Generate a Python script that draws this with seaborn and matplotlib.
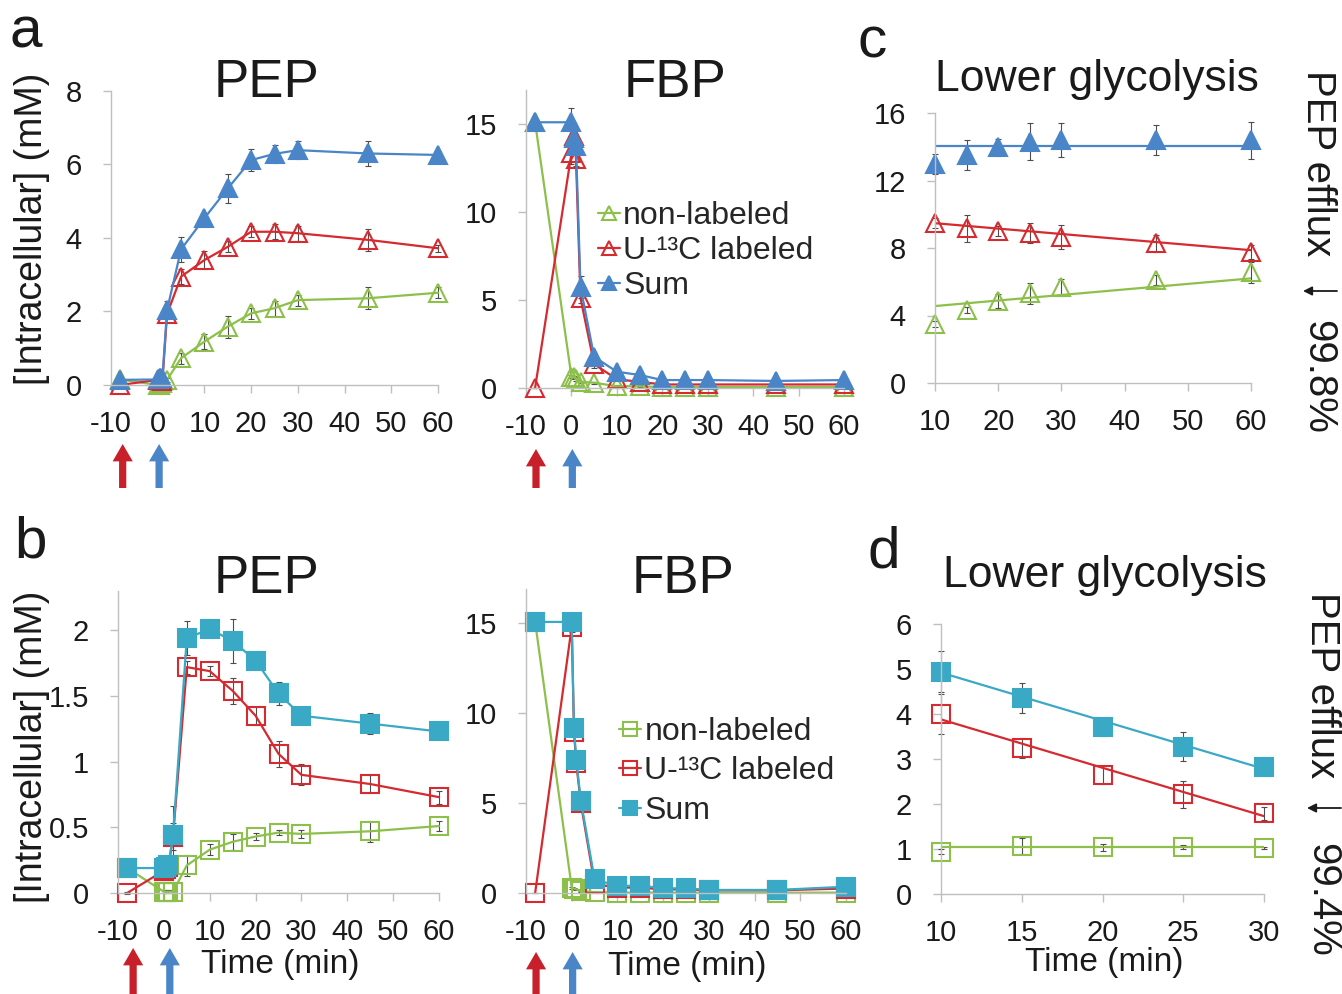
import numpy as np
import pandas as pd
import matplotlib
matplotlib.use("Agg")
import matplotlib.pyplot as plt
import matplotlib.transforms as mtransforms
import seaborn as sns

sns.set_style("ticks")
plt.rcParams['font.family'] = ['Liberation Sans', 'DejaVu Sans']
plt.rcParams['axes.unicode_minus'] = False

GREEN = '#8dc04b'
RED = '#d42a30'
BLUE = '#4a85c8'
CYAN = '#3aa9c6'
AXC = '#bfbfbf'
ERRC = '#4d4d4d'
TXT = '#1a1a1a'

# time points (min), feeding at -8 (U-13C) and 0
t = [-8, 0, 0.5, 1, 2, 5, 10, 15, 20, 25, 30, 45, 60]

# ---- a : PEP
a_pep_non = [0.15, 0.0, 0.0, 0.05, 0.14, 0.73, 1.18, 1.59, 1.95, 2.09, 2.31, 2.36, 2.51]
a_pep_lab = [0.0, 0.14, 0.2, 0.1, 1.93, 2.95, 3.4, 3.76, 4.17, 4.17, 4.13, 3.95, 3.72]
a_pep_sum = [0.14, 0.15, 0.18, 0.18, 2.04, 3.69, 4.54, 5.35, 6.12, 6.29, 6.39, 6.3, 6.26]
a_pep_non_e = [0.05, 0.02, 0.02, 0.05, 0.05, 0.15, 0.2, 0.3, 0.15, 0.2, 0.15, 0.3, 0.15]
a_pep_lab_e = [0.02, 0.05, 0.1, 0.05, 0.1, 0.2, 0.25, 0.15, 0.15, 0.2, 0.2, 0.3, 0.1]
a_pep_sum_e = [0.02, 0.02, 0.05, 0.05, 0.25, 0.35, 0.15, 0.4, 0.3, 0.25, 0.25, 0.35, 0.1]

# ---- a : FBP
a_fbp_non = [15.07, 0.65, 0.6, 0.5, 0.35, 0.3, 0.1, 0.1, 0.05, 0.05, 0.05, 0.05, 0.05]
a_fbp_lab = [0.0, 13.3, 14.3, 13.0, 5.1, 1.35, 0.5, 0.35, 0.2, 0.2, 0.2, 0.2, 0.2]
a_fbp_sum = [15.07, 15.07, 14.2, 13.75, 5.73, 1.77, 0.92, 0.74, 0.45, 0.45, 0.45, 0.4, 0.45]
a_fbp_non_e = [0.1, 0.1, 0.1, 0.1, 0.05, 0.05, 0.05, 0.05, 0.02, 0.02, 0.02, 0.02, 0.02]
a_fbp_lab_e = [0.02, 0.6, 0.4, 0.4, 0.3, 0.2, 0.1, 0.05, 0.05, 0.05, 0.05, 0.05, 0.05]
a_fbp_sum_e = [0.1, 0.8, 0.5, 0.4, 0.6, 0.2, 0.1, 0.1, 0.05, 0.05, 0.05, 0.05, 0.05]

# ---- b : PEP
b_pep_non = [0.19, 0.01, 0.01, 0.01, 0.01, 0.21, 0.33, 0.39, 0.43, 0.46, 0.45, 0.47, 0.51]
b_pep_lab = [0.0, 0.17, 0.18, 0.2, 0.43, 1.72, 1.69, 1.54, 1.35, 1.06, 0.9, 0.83, 0.73]
b_pep_sum = [0.19, 0.19, 0.2, 0.21, 0.44, 1.94, 2.01, 1.92, 1.77, 1.52, 1.35, 1.29, 1.23]
b_pep_non_e = [0.01, 0.01, 0.01, 0.01, 0.01, 0.08, 0.04, 0.06, 0.03, 0.02, 0.03, 0.08, 0.04]
b_pep_lab_e = [0.01, 0.02, 0.03, 0.05, 0.1, 0.05, 0.04, 0.1, 0.07, 0.1, 0.08, 0.07, 0.05]
b_pep_sum_e = [0.01, 0.02, 0.02, 0.05, 0.22, 0.13, 0.03, 0.17, 0.04, 0.09, 0.03, 0.08, 0.02]

# ---- b : FBP
b_fbp_non = [15.07, 0.3, 0.25, 0.2, 0.1, 0.05, 0.02, 0.02, 0.02, 0.02, 0.02, 0.02, 0.02]
b_fbp_lab = [0.0, 14.8, 8.96, 7.2, 4.98, 0.5, 0.3, 0.3, 0.2, 0.2, 0.15, 0.15, 0.25]
b_fbp_sum = [15.07, 15.07, 9.15, 7.39, 5.13, 0.76, 0.39, 0.41, 0.26, 0.26, 0.17, 0.17, 0.35]
b_fbp_non_e = [0.1, 0.05, 0.05, 0.05, 0.02, 0.02, 0.02, 0.02, 0.02, 0.02, 0.02, 0.02, 0.02]
b_fbp_lab_e = [0.02, 0.3, 0.3, 0.2, 0.2, 0.1, 0.05, 0.05, 0.05, 0.05, 0.05, 0.05, 0.05]
b_fbp_sum_e = [0.1, 0.3, 0.3, 0.2, 0.2, 0.1, 0.05, 0.05, 0.05, 0.05, 0.05, 0.05, 0.05]

# ---- c : lower glycolysis (1st experiment)
tc = [10, 15, 20, 25, 30, 45, 60]
c_non = [3.49, 4.32, 4.87, 5.31, 5.66, 6.09, 6.55]
c_lab = [9.47, 9.17, 9.0, 8.87, 8.66, 8.27, 7.77]
c_sum = [12.96, 13.5, 13.96, 14.3, 14.4, 14.4, 14.38]
c_non_e = [0.2, 0.2, 0.4, 0.6, 0.5, 0.3, 0.6]
c_lab_e = [0.3, 0.8, 0.3, 0.6, 0.7, 0.5, 0.4]
c_sum_e = [0.6, 0.9, 0.5, 1.1, 1.0, 0.9, 1.1]
c_fit_t = [10, 60]
c_fit_non = [4.56, 6.2]
c_fit_lab = [9.47, 7.87]
c_fit_sum = [14.05, 14.05]

# ---- d : lower glycolysis (2nd experiment)
td = [10, 15, 20, 25, 30]
d_non = [0.94, 1.07, 1.04, 1.05, 1.02]
d_lab = [4.0, 3.25, 2.64, 2.22, 1.79]
d_sum = [4.94, 4.35, 3.72, 3.27, 2.82]
d_non_e = [0.05, 0.18, 0.08, 0.05, 0.02]
d_lab_e = [0.45, 0.22, 0.2, 0.3, 0.15]
d_sum_e = [0.45, 0.33, 0.2, 0.32, 0.05]
d_fit_t = [10, 30]
d_fit_non = [1.04, 1.04]
d_fit_lab = [3.88, 1.73]
d_fit_sum = [4.92, 2.78]

time_ticks = [-10, 0, 10, 20, 30, 40, 50, 60]
labels = ['non-labeled', 'U-\u00b9\u00b3C labeled', 'Sum']
efflux = ['99.8%', '99.4%']

W, H = 1342, 994
fig = plt.figure(figsize=(W / 100, H / 100), dpi=100)


def axes_px(x0, x1, ytop, ybot):
    return fig.add_axes([x0 / W, 1 - ybot / H, (x1 - x0) / W, (ybot - ytop) / H])


def series(ax, x, y, err, color, marker, filled, label=None, line=True):
    df = pd.DataFrame({'t': x, 'v': y})
    ax.errorbar(x, y, yerr=err, fmt='none', ecolor=ERRC, elinewidth=0.8,
                capsize=2.2, capthick=0.8, zorder=1, clip_on=False)
    sns.lineplot(data=df, x='t', y='v', ax=ax, errorbar=None, sort=False,
                 color=color, marker=marker, markersize=12.5,
                 markeredgewidth=1.5, markeredgecolor=color,
                 markerfacecolor=color if filled else 'none',
                 linewidth=1.6, linestyle='-' if line else 'none',
                 label=label, clip_on=False)


def style(ax, xlim, ylim, xticks, yticks, yticklabels=None):
    ax.set_xlim(xlim)
    ax.set_ylim(ylim)
    ax.set_xticks(xticks)
    ax.set_yticks(yticks)
    if yticklabels is not None:
        ax.set_yticklabels(yticklabels)
    sns.despine(ax=ax)
    for s in ['left', 'bottom']:
        ax.spines[s].set_color(AXC)
        ax.spines[s].set_linewidth(1.0)
    ax.tick_params(axis='both', colors=AXC, labelcolor=TXT, labelsize=21,
                   length=6, width=1.0)
    ax.tick_params(axis='y', pad=15)
    ax.tick_params(axis='x', pad=12)
    ax.set_xlabel('')
    ax.set_ylabel('')


def arrows(ax, xs, ytop, ybot):
    tr = mtransforms.blended_transform_factory(ax.transData, fig.transFigure)
    for xv, c in zip(xs, ['#c8202a', '#4a85c8']):
        ax.annotate('', xy=(xv, 1 - ytop / H), xytext=(xv, 1 - ybot / H),
                    xycoords=tr, textcoords=tr, annotation_clip=False,
                    arrowprops=dict(facecolor=c, edgecolor='none', width=5.2,
                                    headwidth=14.5, headlength=12.5, shrink=0))


def legend(ax, x, y, spacing):
    ax.legend(loc='center left', bbox_to_anchor=(x, y), frameon=False,
              fontsize=23, handlelength=0.7, handletextpad=0.1,
              labelspacing=spacing, markerscale=0.75, borderpad=0,
              borderaxespad=0)


def ftext(x, y, s, **kw):
    fig.text(x / W, 1 - y / H, s, color=TXT, **kw)


def efflux_label(ax, x, ytop, yarrow, ypct, pct):
    ftext(x, ytop, 'PEP efflux', fontsize=29, rotation=-90, ha='center', va='top')
    ax.annotate('', xy=(x - 15, H - yarrow), xytext=(x + 19, H - yarrow),
                xycoords='figure pixels', textcoords='figure pixels',
                annotation_clip=False,
                arrowprops=dict(arrowstyle='-|>', color=TXT, lw=1.3,
                                mutation_scale=13, shrinkA=0, shrinkB=0))
    ftext(x, ypct, pct, fontsize=29, rotation=-90, ha='center', va='top')


# ---------------- a PEP
ax = axes_px(111, 438, 91, 385)
series(ax, t, a_pep_non, a_pep_non_e, GREEN, '^', False)
series(ax, t, a_pep_lab, a_pep_lab_e, RED, '^', False)
series(ax, t, a_pep_sum, a_pep_sum_e, BLUE, '^', True)
style(ax, (-10, 60), (0, 8), time_ticks, [0, 2, 4, 6, 8])
arrows(ax, [-7.5, 0.3], 444, 488)

# ---------------- a FBP
ax = axes_px(526, 844, 90, 388)
series(ax, t, a_fbp_non, a_fbp_non_e, GREEN, '^', False, labels[0])
series(ax, t, a_fbp_lab, a_fbp_lab_e, RED, '^', False, labels[1])
series(ax, t, a_fbp_sum, a_fbp_sum_e, BLUE, '^', True, labels[2])
style(ax, (-10, 60), (0, 16.9), time_ticks, [0, 5, 10, 15])
legend(ax, 0.225, 0.46, 0.15)
arrows(ax, [-7.8, 0.2], 449, 488)

# ---------------- c
ax = axes_px(935, 1251, 113, 383)
series(ax, tc, c_non, c_non_e, GREEN, '^', False, line=False)
series(ax, tc, c_lab, c_lab_e, RED, '^', False, line=False)
series(ax, tc, c_sum, c_sum_e, BLUE, '^', True, line=False)
sns.lineplot(x=c_fit_t, y=c_fit_non, ax=ax, color=GREEN, linewidth=1.6, errorbar=None)
sns.lineplot(x=c_fit_t, y=c_fit_lab, ax=ax, color=RED, linewidth=1.6, errorbar=None)
sns.lineplot(x=c_fit_t, y=c_fit_sum, ax=ax, color=BLUE, linewidth=1.6, errorbar=None)
style(ax, (10, 60), (0, 16), [10, 20, 30, 40, 50, 60], [0, 4, 8, 12, 16])
efflux_label(ax, 1318, 70, 291, 320, efflux[0])

# ---------------- b PEP
ax = axes_px(118, 439, 591, 893)
series(ax, t, b_pep_non, b_pep_non_e, GREEN, 's', False)
series(ax, t, b_pep_lab, b_pep_lab_e, RED, 's', False)
series(ax, t, b_pep_sum, b_pep_sum_e, CYAN, 's', True)
style(ax, (-10, 60), (0, 2.3), time_ticks, [0, 0.5, 1, 1.5, 2],
      ['0', '0.5', '1', '1.5', '2'])
arrows(ax, [-6.7, 1.3], 948, 1000)

# ---------------- b FBP
ax = axes_px(526, 846, 589, 893)
series(ax, t, b_fbp_non, b_fbp_non_e, GREEN, 's', False, labels[0])
series(ax, t, b_fbp_lab, b_fbp_lab_e, RED, 's', False, labels[1])
series(ax, t, b_fbp_sum, b_fbp_sum_e, CYAN, 's', True, labels[2])
style(ax, (-10, 60), (0, 16.9), time_ticks, [0, 5, 10, 15])
legend(ax, 0.29, 0.40, 0.3)
arrows(ax, [-7.8, 0.2], 952, 1000)

# ---------------- d
ax = axes_px(941, 1264, 624, 894)
series(ax, td, d_non, d_non_e, GREEN, 's', False, line=False)
series(ax, td, d_lab, d_lab_e, RED, 's', False, line=False)
series(ax, td, d_sum, d_sum_e, CYAN, 's', True, line=False)
sns.lineplot(x=d_fit_t, y=d_fit_non, ax=ax, color=GREEN, linewidth=1.6, errorbar=None)
sns.lineplot(x=d_fit_t, y=d_fit_lab, ax=ax, color=RED, linewidth=1.6, errorbar=None)
sns.lineplot(x=d_fit_t, y=d_fit_sum, ax=ax, color=CYAN, linewidth=1.6, errorbar=None)
style(ax, (10, 30), (0, 6), [10, 15, 20, 25, 30], [0, 1, 2, 3, 4, 5, 6])
efflux_label(ax, 1322, 592, 808, 843, efflux[1])

# ---------------- texts
ftext(10, 48, 'a', fontsize=42, ha='left', va='baseline')
ftext(14, 557, 'b', fontsize=42, ha='left', va='baseline')
ftext(857, 58, 'c', fontsize=42, ha='left', va='baseline')
ftext(868, 567, 'd', fontsize=42, ha='left', va='baseline')

ftext(267, 97, 'PEP', fontsize=38, ha='center', va='baseline')
ftext(675, 97, 'FBP', fontsize=38, ha='center', va='baseline')
ftext(267, 593, 'PEP', fontsize=38, ha='center', va='baseline')
ftext(683, 593, 'FBP', fontsize=38, ha='center', va='baseline')
ftext(1097, 91, 'Lower glycolysis', fontsize=32, ha='center', va='baseline')
ftext(1105, 587, 'Lower glycolysis', fontsize=32, ha='center', va='baseline')

ftext(32, 229, '[Intracellular] (mM)', fontsize=27, rotation=90, ha='center', va='center')
ftext(32, 747, '[Intracellular] (mM)', fontsize=27, rotation=90, ha='center', va='center')

ftext(280, 965, 'Time (min)', fontsize=24, ha='center', va='center')
ftext(687, 967, 'Time (min)', fontsize=24, ha='center', va='center')
ftext(1104, 963, 'Time (min)', fontsize=24, ha='center', va='center')

fig.savefig('out.png', dpi=100)
